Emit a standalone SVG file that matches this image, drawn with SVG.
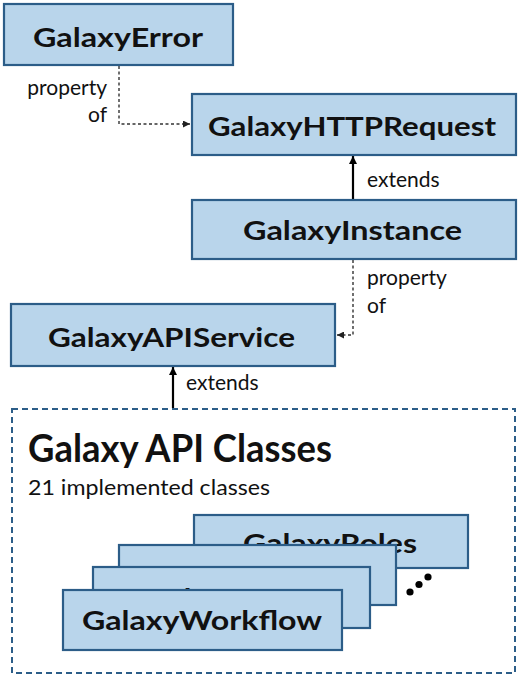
<svg xmlns="http://www.w3.org/2000/svg" width="520" height="678" viewBox="0 0 520 678">
<defs>
<style>
.box{fill:#b9d5eb;stroke:#2c5d88;stroke-width:2.2}
.lbl{font-family:Lato,"Open Sans","DejaVu Sans",sans-serif;font-weight:bold;font-size:27px;fill:#111}
.note{font-family:Lato,"Open Sans","DejaVu Sans",sans-serif;font-size:21px;fill:#111}
.solid{fill:none;stroke:#000;stroke-width:2.2}
.dot{fill:none;stroke:#333;stroke-width:1.4;stroke-dasharray:3,2.5}
.group{fill:none;stroke:#2c5d88;stroke-width:2;stroke-dasharray:6,4}
</style>
<marker id="ah" viewBox="0 0 10 10" refX="10" refY="5" markerWidth="8" markerHeight="8" markerUnits="userSpaceOnUse" orient="auto">
<path d="M0,0 L10,5 L0,10 z" fill="#000"/>
</marker>
<marker id="ahd" viewBox="0 0 10 10" refX="10" refY="5" markerWidth="7" markerHeight="7" markerUnits="userSpaceOnUse" orient="auto">
<path d="M0,0 L10,5 L0,10 z" fill="#222"/>
</marker>
</defs>
<rect width="520" height="678" fill="#fff"/>

<g id="connectors">
<path class="dot" d="M119,66 V124 H190" marker-end="url(#ahd)"/>
<path class="solid" d="M353,199 V156" marker-end="url(#ah)"/>
<path class="dot" d="M353,260 V335 H337" marker-end="url(#ahd)"/>
<path class="solid" d="M173,408 V367" marker-end="url(#ah)"/>
<text class="note" x="107" y="95" text-anchor="end">property</text>
<text class="note" x="107" y="122" text-anchor="end">of</text>
<text class="note" x="367" y="187">extends</text>
<text class="note" x="367" y="285">property</text>
<text class="note" x="367" y="313">of</text>
<text class="note" x="186" y="390">extends</text>
</g>

<g id="GalaxyError">
<rect class="box" x="4" y="4" width="229" height="61"/>
<text class="lbl" x="33" y="47" textLength="170" lengthAdjust="spacingAndGlyphs">GalaxyError</text>
</g>

<g id="GalaxyHTTPRequest">
<rect class="box" x="192" y="94" width="324" height="61"/>
<text class="lbl" x="208" y="136" textLength="288" lengthAdjust="spacingAndGlyphs">GalaxyHTTPRequest</text>
</g>

<g id="GalaxyInstance">
<rect class="box" x="192" y="200" width="324" height="59"/>
<text class="lbl" x="243" y="240" textLength="219" lengthAdjust="spacingAndGlyphs">GalaxyInstance</text>
</g>

<g id="GalaxyAPIService">
<rect class="box" x="11" y="304" width="324" height="62"/>
<text class="lbl" x="48" y="347" textLength="247" lengthAdjust="spacingAndGlyphs">GalaxyAPIService</text>
</g>

<g id="GalaxyAPIClasses">
<rect class="group" x="12" y="409" width="503" height="264"/>
<text class="lbl" x="28" y="462" style="font-size:39px" textLength="304" lengthAdjust="spacingAndGlyphs">Galaxy API Classes</text>
<text class="note" x="28" y="495" textLength="242" lengthAdjust="spacingAndGlyphs">21 implemented classes</text>
</g>

<g id="GalaxyRoles">
<rect class="box" x="194" y="515" width="274" height="53"/>
<text class="lbl" x="243" y="553" textLength="174" lengthAdjust="spacingAndGlyphs">GalaxyRoles</text>
</g>

<g id="GalaxyJobs">
<rect class="box" x="119" y="545" width="277" height="60"/>
<text class="lbl" x="179" y="586" textLength="158" lengthAdjust="spacingAndGlyphs">GalaxyJobs</text>
</g>

<g id="GalaxyUsers">
<rect class="box" x="93" y="567" width="277" height="61"/>
<text class="lbl" x="146" y="608" textLength="170" lengthAdjust="spacingAndGlyphs">GalaxyUsers</text>
</g>

<g id="GalaxyWorkflow">
<rect class="box" x="63" y="590" width="279" height="60"/>
<text class="lbl" x="82" y="630" textLength="240" lengthAdjust="spacingAndGlyphs">GalaxyWorkflow</text>
</g>

<g id="ellipsis">
<circle cx="410" cy="592" r="3.6" fill="#000"/>
<circle cx="419" cy="584.5" r="3.6" fill="#000"/>
<circle cx="428" cy="577" r="3.6" fill="#000"/>
</g>
</svg>
